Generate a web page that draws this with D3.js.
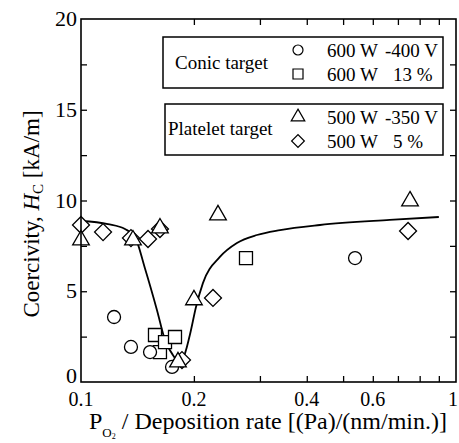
<!DOCTYPE html>
<html>
<head>
<meta charset="utf-8">
<script src="https://cdn.jsdelivr.net/npm/d3@7"></script>
<style>
  body { margin: 0; background: #fff; }
  svg { display: block; font-family: "Liberation Serif", "Times New Roman", serif; }
</style>
</head>
<body>
<div id="chart"></div>
<script>
// values: [P_O2 / deposition rate, Hc (kA/m)]
const conicBias = [[0.1225, 3.58], [0.1359, 1.93], [0.1528, 1.65], [0.1749, 0.83], [0.538, 6.83]];
const conicO2 = [[0.1575, 2.59], [0.1624, 1.65], [0.1675, 2.2], [0.1781, 2.48], [0.2754, 6.83]];
const plateletO2 = [[0.1, 8.65], [0.1145, 8.26], [0.1359, 7.93], [0.1509, 7.88], [0.1624, 8.43], [0.1859, 1.21], [0.2249, 4.63], [0.745, 8.32]];
const plateletBias = [[0.1, 7.82], [0.1376, 7.82], [0.1624, 8.48], [0.1814, 1.1], [0.2001, 4.52], [0.2319, 9.2], [0.754, 9.97]];
const fitLine = [[0.1, 8.87], [0.118, 8.7], [0.131, 8.43], [0.1393, 7.99], [0.148, 6.28], [0.1594, 3.97],
  [0.1675, 2.31], [0.1758, 1.49], [0.1814, 1.16], [0.187, 1.32], [0.1951, 2.59], [0.2026, 4.13],
  [0.2114, 5.45], [0.2346, 6.89], [0.2605, 7.66], [0.2946, 8.1], [0.3394, 8.37], [0.4337, 8.65],
  [0.6655, 8.93], [0.9, 9.09]];

const xTickLabels = [0.1, 0.2, 0.4, 0.6, 1];
const xMinorTicks = [0.2, 0.3, 0.4, 0.5, 0.6, 0.7, 0.8, 0.9];
const yTickLabels = [0, 5, 10, 15, 20];
const yMinorTicks = [2.5, 5, 7.5, 10, 12.5, 15, 17.5];

const width = 459, height = 443;
const margin = { top: 19, right: 3, bottom: 61, left: 81 };
const W = width - margin.left - margin.right;
const H = height - margin.top - margin.bottom;

const svg = d3.select("#chart").append("svg")
  .attr("width", width).attr("height", height);

const g = svg.append("g").attr("transform", `translate(${margin.left},${margin.top})`);

const x = d3.scaleLog().domain([0.1, 1]).range([0, W]);
const y = d3.scaleLinear().domain([0, 20]).range([H, 0]);

// ticks inside the frame, on all four sides
const tickLen = 6;
g.append("g").call(d3.axisBottom(x).tickValues(xMinorTicks).tickFormat("").tickSizeInner(-tickLen).tickSizeOuter(0))
  .attr("transform", `translate(0,${H})`);
g.append("g").call(d3.axisTop(x).tickValues(xMinorTicks).tickFormat("").tickSizeInner(-tickLen).tickSizeOuter(0));
g.append("g").call(d3.axisLeft(y).tickValues(yMinorTicks).tickFormat("").tickSizeInner(-tickLen).tickSizeOuter(0));
g.append("g").call(d3.axisRight(y).tickValues(yMinorTicks).tickFormat("").tickSizeInner(-tickLen).tickSizeOuter(0))
  .attr("transform", `translate(${W},0)`);
g.selectAll(".domain").remove();
g.selectAll(".tick line").attr("stroke", "#000").attr("stroke-width", 1.3);

// tick labels
g.selectAll(".xlab").data(xTickLabels).enter().append("text")
  .attr("x", d => x(d) - (d === 1 ? 3 : 0)).attr("y", H + 24)
  .attr("text-anchor", "middle").attr("font-size", 20)
  .text(d => d);
g.selectAll(".ylab").data(yTickLabels).enter().append("text")
  .attr("x", -4).attr("y", d => y(d) + (d === 0 ? 1 : 7))
  .attr("text-anchor", "end").attr("font-size", 22)
  .text(d => d);

// fitted curve
const line = d3.line().x(d => x(d[0])).y(d => y(d[1])).curve(d3.curveMonotoneX);
g.append("path").datum(fitLine)
  .attr("d", line).attr("fill", "none").attr("stroke", "#000").attr("stroke-width", 1.8);

// symbols
const shapes = {
  circle: d3.symbol().type(d3.symbolCircle).size(Math.PI * 6.5 * 6.5),
  square: d3.symbol().type(d3.symbolSquare).size(13 * 13),
  triangle: d3.symbol().type(d3.symbolTriangle).size(120),
  diamond: d3.symbol().type(d3.symbolSquare).size(12 * 12)
};
function drawSeries(data, kind) {
  g.append("g").selectAll("path").data(data).enter().append("path")
    .attr("d", shapes[kind])
    .attr("transform", d => `translate(${x(d[0])},${y(d[1])})` + (kind === "diamond" ? " rotate(45)" : ""))
    .attr("fill", "#fff").attr("stroke", "#000").attr("stroke-width", 1.3);
}
drawSeries(conicO2, "square");
drawSeries(conicBias, "circle");
drawSeries(plateletO2, "diamond");
drawSeries(plateletBias, "triangle");

// frame
g.append("rect").attr("width", W).attr("height", H)
  .attr("fill", "none").attr("stroke", "#000").attr("stroke-width", 1.6);

// legend boxes
const legendGroups = [
  { title: "Conic target", box: [163, 37, 280, 51], tx: 175, ty: 69,
    rows: [{ kind: "circle", a: "600 W", b: "-400 V", bx: 385, cy: 50 }, { kind: "square", a: "600 W", b: "13 %", bx: 393, cy: 74 }] },
  { title: "Platelet target", box: [165, 104, 278, 51], tx: 168, ty: 135,
    rows: [{ kind: "triangle", a: "500 W", b: "-350 V", bx: 385, cy: 117 }, { kind: "diamond", a: "500 W", b: "5 %", bx: 393, cy: 141 }] }
];
const legendShapes = {
  circle: d3.symbol().type(d3.symbolCircle).size(Math.PI * 5 * 5),
  square: d3.symbol().type(d3.symbolSquare).size(10 * 10),
  triangle: d3.symbol().type(d3.symbolTriangle).size(80),
  diamond: d3.symbol().type(d3.symbolSquare).size(9 * 9)
};
legendGroups.forEach(lg => {
  svg.append("rect")
    .attr("x", lg.box[0]).attr("y", lg.box[1])
    .attr("width", lg.box[2]).attr("height", lg.box[3])
    .attr("fill", "#fff").attr("stroke", "#000").attr("stroke-width", 1.5);
  svg.append("text").attr("x", lg.tx).attr("y", lg.ty).attr("font-size", 19).text(lg.title);
  lg.rows.forEach(r => {
    svg.append("path").attr("d", legendShapes[r.kind])
      .attr("transform", `translate(298,${r.cy})` + (r.kind === "diamond" ? " rotate(45)" : ""))
      .attr("fill", "#fff").attr("stroke", "#000").attr("stroke-width", 1.2);
    svg.append("text").attr("x", 327).attr("y", r.cy + 7).attr("font-size", 19).text(r.a);
    svg.append("text").attr("x", r.bx).attr("y", r.cy + 7).attr("font-size", 19).text(r.b);
  });
});

// axis titles
const xt = svg.append("text").attr("x", 89).attr("y", 429).attr("font-size", 24);
xt.append("tspan").text("P");
xt.append("tspan").attr("font-size", 13).attr("dy", 8).text("O");
xt.append("tspan").attr("font-size", 8).attr("dy", 2).text("2");
xt.append("tspan").attr("dy", -10).text(" / Deposition rate [(Pa)/(nm/min.)]");

const yt = svg.append("text")
  .attr("transform", "translate(39,214) rotate(-90)")
  .attr("text-anchor", "middle")
  .attr("font-size", 23);
yt.append("tspan").text("Coercivity, ");
yt.append("tspan").attr("font-style", "italic").text("H");
yt.append("tspan").attr("font-size", 15).attr("dy", 4).text("C");
yt.append("tspan").attr("dy", -4).text(" [kA/m]");
</script>
</body>
</html>
